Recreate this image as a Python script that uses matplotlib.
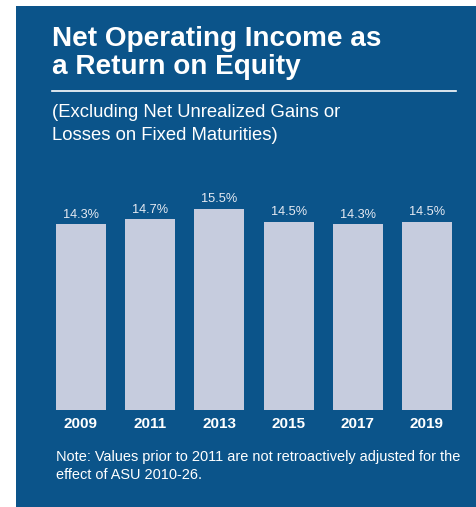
import matplotlib
matplotlib.use('Agg')
import matplotlib.pyplot as plt
from matplotlib.patches import Rectangle
from matplotlib.lines import Line2D

plt.rcParams['font.family'] = ['Liberation Sans', 'DejaVu Sans']

years = ['2009', '2011', '2013', '2015', '2017', '2019']
roe = [14.3, 14.7, 15.5, 14.5, 14.3, 14.5]

W, H = 476, 507
PANEL = '#0B548A'
BAR = '#C6CCDE'

fig = plt.figure(figsize=(W / 100, H / 100), dpi=100)
fig.patch.set_facecolor('white')

# blue backdrop
fig.patches.append(Rectangle((16 / W, 0), 1 - 16 / W, 1 - 6 / H,
                             transform=fig.transFigure, facecolor=PANEL,
                             edgecolor='none', zorder=-5))

def fx(px):
    return px / W

def fy(px):
    return 1 - px / H

fig.text(fx(52), fy(46), 'Net Operating Income as', color='white',
         fontsize=20.1, fontweight='bold', va='baseline')
fig.text(fx(52), fy(74), 'a Return on Equity', color='white',
         fontsize=20.1, fontweight='bold', va='baseline')
fig.lines.append(Line2D([fx(52), fx(456)], [fy(91), fy(91)],
                        transform=fig.transFigure, color='white', lw=1.2))
fig.text(fx(52), fy(117), '(Excluding Net Unrealized Gains or', color='white',
         fontsize=13.3, va='baseline')
fig.text(fx(52), fy(140), 'Losses on Fixed Maturities)', color='white',
         fontsize=13.3, va='baseline')

# bar chart area
ymax = 16
bottom_px, scale = 410, 13.0
left_px, step = 46.4, 69.2
ax = fig.add_axes([fx(left_px), fy(bottom_px), 6 * step / W, ymax * scale / H])
ax.set_facecolor('none')
ax.set_zorder(2)
x = range(len(years))
bars = ax.bar(x, roe, width=0.723, color=BAR, edgecolor='none')
for xi, v in zip(x, roe):
    ax.text(xi, v + 0.25, f'{v:.1f}%', ha='center', va='bottom',
            color='#E6EAF2', fontsize=9.2)
ax.set_xlim(-0.5, 5.5)
ax.set_ylim(0, ymax)
ax.set_xticks(list(x))
ax.set_xticklabels(years, color='white', fontsize=11, fontweight='bold')
ax.tick_params(axis='x', length=0, pad=5)
ax.set_yticks([])
for s in ax.spines.values():
    s.set_visible(False)

fig.text(fx(56), fy(461), 'Note: Values prior to 2011 are not retroactively adjusted for the',
         color='white', fontsize=10.45, va='baseline')
fig.text(fx(56), fy(479), 'effect of ASU 2010-26.', color='white',
         fontsize=10.45, va='baseline')

fig.savefig('out.png', dpi=100, facecolor=fig.get_facecolor())
